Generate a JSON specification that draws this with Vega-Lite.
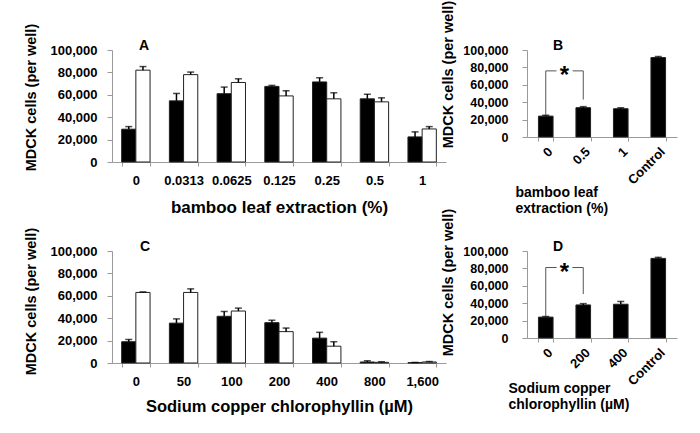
{
  "$schema": "https://vega.github.io/schema/vega-lite/v6.json",
  "background": "white",
  "autosize": {"type": "none"},
  "padding": {"left": 112, "top": 50, "right": 588, "bottom": 383},
  "config": {
    "view": {"stroke": null},
    "font": "Liberation Sans",
    "axis": {
      "grid": false,
      "labelFont": "Liberation Sans",
      "labelFontWeight": "bold",
      "labelColor": "#000",
      "titleFont": "Liberation Sans",
      "titleFontWeight": "bold",
      "titleColor": "#000",
      "domainColor": "#9a9a9a",
      "tickColor": "#9a9a9a",
      "domainWidth": 1,
      "tickWidth": 1
    }
  },
  "datasets": {
    "A": [
      {"conc": "0", "g": "a", "m": 29300, "u": 31600},
      {"conc": "0", "g": "b", "m": 82000, "u": 85200},
      {"conc": "0.0313", "g": "a", "m": 54600, "u": 61200},
      {"conc": "0.0313", "g": "b", "m": 78000, "u": 80300},
      {"conc": "0.0625", "g": "a", "m": 61000, "u": 66900},
      {"conc": "0.0625", "g": "b", "m": 71000, "u": 74300},
      {"conc": "0.125", "g": "a", "m": 67500, "u": 68400},
      {"conc": "0.125", "g": "b", "m": 59000, "u": 63600},
      {"conc": "0.25", "g": "a", "m": 71500, "u": 75200},
      {"conc": "0.25", "g": "b", "m": 56400, "u": 61800},
      {"conc": "0.5", "g": "a", "m": 56400, "u": 60600},
      {"conc": "0.5", "g": "b", "m": 53700, "u": 57300},
      {"conc": "1", "g": "a", "m": 22400, "u": 26900},
      {"conc": "1", "g": "b", "m": 29500, "u": 31600}
    ],
    "C": [
      {"conc": "0", "g": "a", "m": 19000, "u": 21000},
      {"conc": "0", "g": "b", "m": 63000, "u": 63500},
      {"conc": "50", "g": "a", "m": 35600, "u": 39400},
      {"conc": "50", "g": "b", "m": 63000, "u": 66200},
      {"conc": "100", "g": "a", "m": 41700, "u": 46000},
      {"conc": "100", "g": "b", "m": 46400, "u": 49000},
      {"conc": "200", "g": "a", "m": 36000, "u": 38200},
      {"conc": "200", "g": "b", "m": 28000, "u": 31200},
      {"conc": "400", "g": "a", "m": 22200, "u": 27400},
      {"conc": "400", "g": "b", "m": 15000, "u": 19000},
      {"conc": "800", "g": "a", "m": 900, "u": 1900},
      {"conc": "800", "g": "b", "m": 600, "u": 1100},
      {"conc": "1,600", "g": "a", "m": 300, "u": 500},
      {"conc": "1,600", "g": "b", "m": 900, "u": 1300}
    ],
    "B": [
      {"conc": "0", "m": 24000, "u": 25000},
      {"conc": "0.5", "m": 33700, "u": 34900},
      {"conc": "1", "m": 32500, "u": 33600},
      {"conc": "Control", "m": 91300, "u": 92500}
    ],
    "D": [
      {"conc": "0", "m": 24000, "u": 24700},
      {"conc": "200", "m": 38000, "u": 39500},
      {"conc": "400", "m": 38800, "u": 42000},
      {"conc": "Control", "m": 91500, "u": 92700}
    ],
    "Bbr": [
      {"conc": "0", "m": 25500, "o": 1},
      {"conc": "0", "m": 76000, "o": 2},
      {"conc": "0.5", "m": 76000, "o": 3},
      {"conc": "0.5", "m": 43000, "o": 4}
    ],
    "Dbr": [
      {"conc": "0", "m": 25000, "o": 1},
      {"conc": "0", "m": 81000, "o": 2},
      {"conc": "200", "m": 81000, "o": 3},
      {"conc": "200", "m": 50500, "o": 4}
    ]
  },
  "columns": 2,
  "align": "each",
  "bounds": "flush",
  "spacing": {"row": 89, "column": 81},
  "concat": [
    {
      "width": 334,
      "height": 112,
      "encoding": {
        "x": {"field": "conc", "type": "nominal", "sort": null,
          "scale": {"domain": ["0", "0.0313", "0.0625", "0.125", "0.25", "0.5", "1"], "paddingInner": 0.405, "paddingOuter": 0.2025},
          "axis": {"title": "bamboo leaf extraction (%)", "titleFontSize": 17, "titlePadding": 12, "labelAngle": 0, "labelFontSize": 13, "labelPadding": 8, "tickSize": 4, "tickBand": "extent"}},
        "y": {"field": "m", "type": "quantitative", "scale": {"domain": [0, 100000]},
          "axis": {"title": "MDCK cells (per well)", "titleFontSize": 14.5, "titleY": 47, "titlePadding": 12, "values": [0, 20000, 40000, 60000, 80000, 100000], "format": ",d", "labelFontSize": 13, "labelPadding": 10, "tickSize": 5}}
      },
      "layer": [
        {"data": {"name": "A"}, "mark": {"type": "bar", "stroke": "#222", "strokeWidth": 1},
          "encoding": {
            "xOffset": {"field": "g", "type": "nominal", "scale": {"paddingInner": 0, "paddingOuter": 0}},
            "fill": {"field": "g", "type": "nominal", "scale": {"domain": ["a", "b"], "range": ["#000000", "#ffffff"]}, "legend": null}
          }},
        {"data": {"name": "A"}, "mark": {"type": "rule", "color": "#000", "strokeWidth": 1.5},
          "encoding": {"xOffset": {"field": "g", "type": "nominal"}, "y2": {"field": "u"}}},
        {"data": {"name": "A"}, "mark": {"type": "tick", "color": "#000", "thickness": 1.5, "size": 7},
          "encoding": {"xOffset": {"field": "g", "type": "nominal"},
            "y": {"field": "u", "type": "quantitative", "scale": {"domain": [0, 100000]},
              "axis": {"title": "MDCK cells (per well)", "titleFontSize": 14.5, "titleY": 47, "titlePadding": 12, "values": [0, 20000, 40000, 60000, 80000, 100000], "format": ",d", "labelFontSize": 13, "labelPadding": 10, "tickSize": 5}}}},
        {"data": {"values": [{"conc": "0", "m": 100000, "t": "A"}]}, "mark": {"type": "text", "fontSize": 14, "fontWeight": "bold", "baseline": "alphabetic", "align": "center", "color": "#000"},
          "encoding": {
            "x": {"field": "conc", "type": "nominal", "sort": null, "bandPosition": 0.785,
              "scale": {"domain": ["0", "0.0313", "0.0625", "0.125", "0.25", "0.5", "1"], "paddingInner": 0.405, "paddingOuter": 0.2025},
              "axis": {"title": "bamboo leaf extraction (%)", "titleFontSize": 17, "titlePadding": 12, "labelAngle": 0, "labelFontSize": 13, "labelPadding": 8, "tickSize": 4, "tickBand": "extent"}},
            "text": {"field": "t"}}}
      ]
    },
    {
      "width": 150,
      "height": 87,
      "encoding": {
        "x": {"field": "conc", "type": "nominal", "sort": null,
          "scale": {"domain": ["0", "0.5", "1", "Control"], "paddingInner": 0.61, "paddingOuter": 0.305},
          "axis": {"title": ["bamboo leaf", "extraction (%)"], "titleFontSize": 14, "titleLineHeight": 16, "titleX": -12, "titleY": 48, "titleAlign": "left", "titleBaseline": "top", "labelAngle": -45, "labelFontSize": 13, "labelPadding": 4, "tickSize": 4, "tickBand": "extent"}},
        "y": {"field": "m", "type": "quantitative", "scale": {"domain": [0, 100000]},
          "axis": {"title": "MDCK cells (per well)", "titleFontSize": 14.5, "titleY": 24, "titlePadding": 7, "values": [0, 20000, 40000, 60000, 80000, 100000], "format": ",d", "labelFontSize": 12.5, "labelPadding": 14, "tickSize": 5}}
      },
      "layer": [
        {"data": {"name": "B"}, "mark": {"type": "bar", "color": "#000", "stroke": "#222", "strokeWidth": 1}},
        {"data": {"name": "B"}, "mark": {"type": "rule", "color": "#000", "strokeWidth": 1.5}, "encoding": {"y2": {"field": "u"}}},
        {"data": {"name": "B"}, "mark": {"type": "tick", "color": "#000", "thickness": 1.5, "size": 7},
          "encoding": {"y": {"field": "u", "type": "quantitative", "scale": {"domain": [0, 100000]},
            "axis": {"title": "MDCK cells (per well)", "titleFontSize": 14.5, "titleY": 24, "titlePadding": 7, "values": [0, 20000, 40000, 60000, 80000, 100000], "format": ",d", "labelFontSize": 12.5, "labelPadding": 14, "tickSize": 5}}}},
        {"data": {"name": "Bbr"}, "mark": {"type": "line", "color": "#555", "strokeWidth": 1}, "encoding": {"order": {"field": "o"}}},
        {"data": {"values": [{"conc": "0", "m": 76000, "t": "*"}]}, "mark": {"type": "text", "fontSize": 24, "fontWeight": "bold", "baseline": "middle", "align": "center", "dy": 5, "fill": "#fff", "stroke": "#fff", "strokeWidth": 6},
          "encoding": {"x": {"field": "conc", "type": "nominal", "bandPosition": 1.78}, "text": {"field": "t"}}},
        {"data": {"values": [{"conc": "0", "m": 76000, "t": "*"}]}, "mark": {"type": "text", "fontSize": 24, "fontWeight": "bold", "baseline": "middle", "align": "center", "dy": 5, "color": "#000"},
          "encoding": {"x": {"field": "conc", "type": "nominal", "bandPosition": 1.78}, "text": {"field": "t"}}},
        {"data": {"values": [{"conc": "0", "m": 100000, "t": "B"}]}, "mark": {"type": "text", "fontSize": 14, "fontWeight": "bold", "baseline": "alphabetic", "align": "center", "color": "#000"},
          "encoding": {"x": {"field": "conc", "type": "nominal", "bandPosition": 1.34}, "text": {"field": "t"}}}
      ]
    },
    {
      "width": 334,
      "height": 112,
      "encoding": {
        "x": {"field": "conc", "type": "nominal", "sort": null,
          "scale": {"domain": ["0", "50", "100", "200", "400", "800", "1,600"], "paddingInner": 0.405, "paddingOuter": 0.2025},
          "axis": {"title": "Sodium copper chlorophyllin (µM)", "titleFontSize": 16.5, "titlePadding": 10, "labelAngle": 0, "labelFontSize": 13, "labelPadding": 8, "tickSize": 4, "tickBand": "extent"}},
        "y": {"field": "m", "type": "quantitative", "scale": {"domain": [0, 100000]},
          "axis": {"title": "MDCK cells (per well)", "titleFontSize": 14.5, "titleY": 50, "titlePadding": 12, "values": [0, 20000, 40000, 60000, 80000, 100000], "format": ",d", "labelFontSize": 13, "labelPadding": 10, "tickSize": 5}}
      },
      "layer": [
        {"data": {"name": "C"}, "mark": {"type": "bar", "stroke": "#222", "strokeWidth": 1},
          "encoding": {
            "xOffset": {"field": "g", "type": "nominal", "scale": {"paddingInner": 0, "paddingOuter": 0}},
            "fill": {"field": "g", "type": "nominal", "scale": {"domain": ["a", "b"], "range": ["#000000", "#ffffff"]}, "legend": null}
          }},
        {"data": {"name": "C"}, "mark": {"type": "rule", "color": "#000", "strokeWidth": 1.5},
          "encoding": {"xOffset": {"field": "g", "type": "nominal"}, "y2": {"field": "u"}}},
        {"data": {"name": "C"}, "mark": {"type": "tick", "color": "#000", "thickness": 1.5, "size": 7},
          "encoding": {"xOffset": {"field": "g", "type": "nominal"},
            "y": {"field": "u", "type": "quantitative", "scale": {"domain": [0, 100000]},
              "axis": {"title": "MDCK cells (per well)", "titleFontSize": 14.5, "titleY": 50, "titlePadding": 12, "values": [0, 20000, 40000, 60000, 80000, 100000], "format": ",d", "labelFontSize": 13, "labelPadding": 10, "tickSize": 5}}}},
        {"data": {"values": [{"conc": "0", "m": 100000, "t": "C"}]}, "mark": {"type": "text", "fontSize": 14, "fontWeight": "bold", "baseline": "alphabetic", "align": "center", "color": "#000"},
          "encoding": {
            "x": {"field": "conc", "type": "nominal", "sort": null, "bandPosition": 0.82,
              "scale": {"domain": ["0", "50", "100", "200", "400", "800", "1,600"], "paddingInner": 0.405, "paddingOuter": 0.2025},
              "axis": {"title": "Sodium copper chlorophyllin (µM)", "titleFontSize": 16.5, "titlePadding": 10, "labelAngle": 0, "labelFontSize": 13, "labelPadding": 8, "tickSize": 4, "tickBand": "extent"}},
            "text": {"field": "t"}}}
      ]
    },
    {
      "width": 150,
      "height": 87,
      "encoding": {
        "x": {"field": "conc", "type": "nominal", "sort": null,
          "scale": {"domain": ["0", "200", "400", "Control"], "paddingInner": 0.61, "paddingOuter": 0.305},
          "axis": {"title": ["Sodium copper", "chlorophyllin (µM)"], "titleFontSize": 14, "titleLineHeight": 16, "titleX": -19, "titleY": 43, "titleAlign": "left", "titleBaseline": "top", "labelAngle": -45, "labelFontSize": 13, "labelPadding": 4, "tickSize": 4, "tickBand": "extent"}},
        "y": {"field": "m", "type": "quantitative", "scale": {"domain": [0, 100000]},
          "axis": {"title": "MDCK cells (per well)", "titleFontSize": 14.5, "titleY": 31, "titlePadding": 7, "values": [0, 20000, 40000, 60000, 80000, 100000], "format": ",d", "labelFontSize": 12.5, "labelPadding": 14, "tickSize": 5}}
      },
      "layer": [
        {"data": {"name": "D"}, "mark": {"type": "bar", "color": "#000", "stroke": "#222", "strokeWidth": 1}},
        {"data": {"name": "D"}, "mark": {"type": "rule", "color": "#000", "strokeWidth": 1.5}, "encoding": {"y2": {"field": "u"}}},
        {"data": {"name": "D"}, "mark": {"type": "tick", "color": "#000", "thickness": 1.5, "size": 7},
          "encoding": {"y": {"field": "u", "type": "quantitative", "scale": {"domain": [0, 100000]},
            "axis": {"title": "MDCK cells (per well)", "titleFontSize": 14.5, "titleY": 31, "titlePadding": 7, "values": [0, 20000, 40000, 60000, 80000, 100000], "format": ",d", "labelFontSize": 12.5, "labelPadding": 14, "tickSize": 5}}}},
        {"data": {"name": "Dbr"}, "mark": {"type": "line", "color": "#555", "strokeWidth": 1}, "encoding": {"order": {"field": "o"}}},
        {"data": {"values": [{"conc": "0", "m": 81000, "t": "*"}]}, "mark": {"type": "text", "fontSize": 24, "fontWeight": "bold", "baseline": "middle", "align": "center", "dy": 5, "fill": "#fff", "stroke": "#fff", "strokeWidth": 6},
          "encoding": {"x": {"field": "conc", "type": "nominal", "bandPosition": 1.78}, "text": {"field": "t"}}},
        {"data": {"values": [{"conc": "0", "m": 81000, "t": "*"}]}, "mark": {"type": "text", "fontSize": 24, "fontWeight": "bold", "baseline": "middle", "align": "center", "dy": 5, "color": "#000"},
          "encoding": {"x": {"field": "conc", "type": "nominal", "bandPosition": 1.78}, "text": {"field": "t"}}},
        {"data": {"values": [{"conc": "0", "m": 100000, "t": "D"}]}, "mark": {"type": "text", "fontSize": 14, "fontWeight": "bold", "baseline": "alphabetic", "align": "center", "color": "#000"},
          "encoding": {"x": {"field": "conc", "type": "nominal", "bandPosition": 1.34}, "text": {"field": "t"}}}
      ]
    }
  ]
}
